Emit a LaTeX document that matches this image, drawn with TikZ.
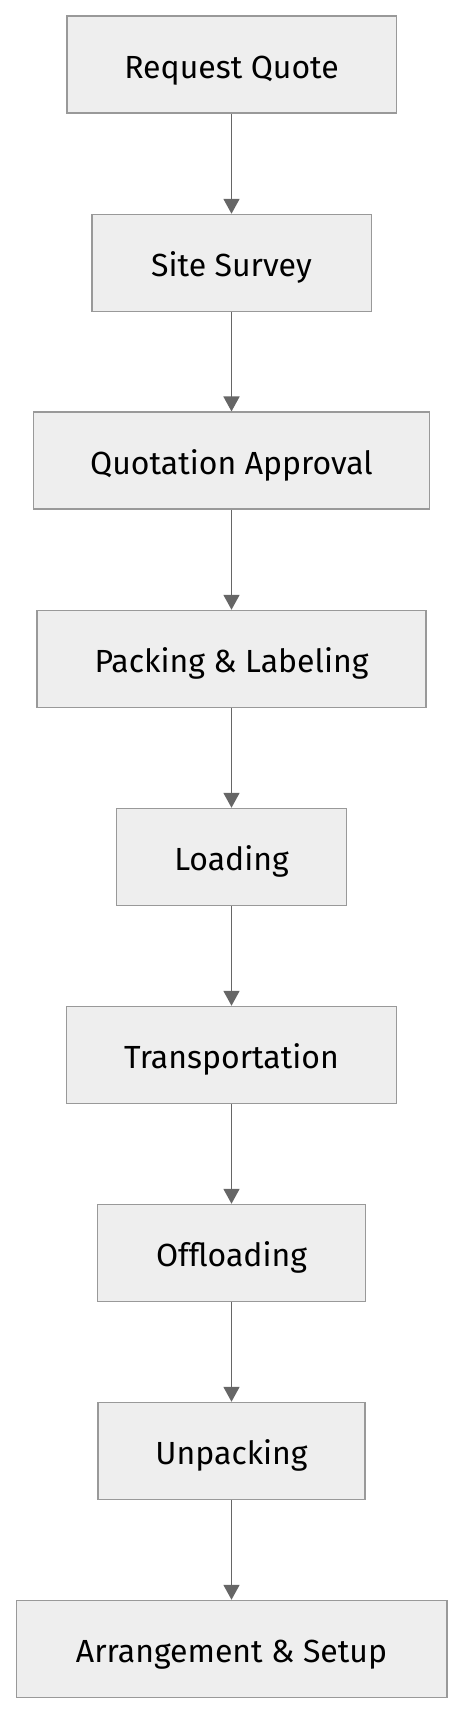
\documentclass[tikz,border=0pt]{standalone}
\usepackage{fontspec}
\setmainfont{Fira Sans}
\usetikzlibrary{arrows.meta}
\definecolor{boxfill}{HTML}{EEEEEE}
\definecolor{boxline}{HTML}{999999}
\definecolor{arrowcol}{HTML}{666666}
\tikzset{
  stepbox/.style={rectangle, draw=boxline, fill=boxfill, line width=1.5pt,
    minimum height=97pt, inner sep=0pt, text=black,
    text height=27.6pt, text depth=0pt,
    font=\fontsize{32}{38}\selectfont},
  flowarrow/.style={draw=arrowcol, line width=1.8pt,
    -{Triangle[length=15pt,width=16pt,fill=arrowcol]}}
}
\begin{document}
\begin{tikzpicture}[x=1pt,y=1pt]
\useasboundingbox (0,0) rectangle (463,-1714);
\node[stepbox, minimum width=329.5pt] (n1) at (231.5,-64.5) {Request Quote};
\node[stepbox, minimum width=279.5pt] (n2) at (231.5,-263) {Site Survey};
\node[stepbox, minimum width=396pt] (n3) at (231.5,-460.7) {Quotation Approval};
\node[stepbox, minimum width=389pt] (n4) at (231.5,-659) {Packing \& Labeling};
\node[stepbox, minimum width=229.8pt] (n5) at (231.5,-857) {Loading};
\node[stepbox, minimum width=329.8pt] (n6) at (231.5,-1055) {Transportation};
\node[stepbox, minimum width=268.2pt] (n7) at (231.5,-1253) {Offloading};
\node[stepbox, minimum width=266.8pt] (n8) at (231.5,-1451) {Unpacking};
\node[stepbox, minimum width=430.5pt] (n9) at (231.5,-1649) {Arrangement \& Setup};
\draw[flowarrow] (n1) -- (n2);
\draw[flowarrow] (n2) -- (n3);
\draw[flowarrow] (n3) -- (n4);
\draw[flowarrow] (n4) -- (n5);
\draw[flowarrow] (n5) -- (n6);
\draw[flowarrow] (n6) -- (n7);
\draw[flowarrow] (n7) -- (n8);
\draw[flowarrow] (n8) -- (n9);
\end{tikzpicture}
\end{document}
